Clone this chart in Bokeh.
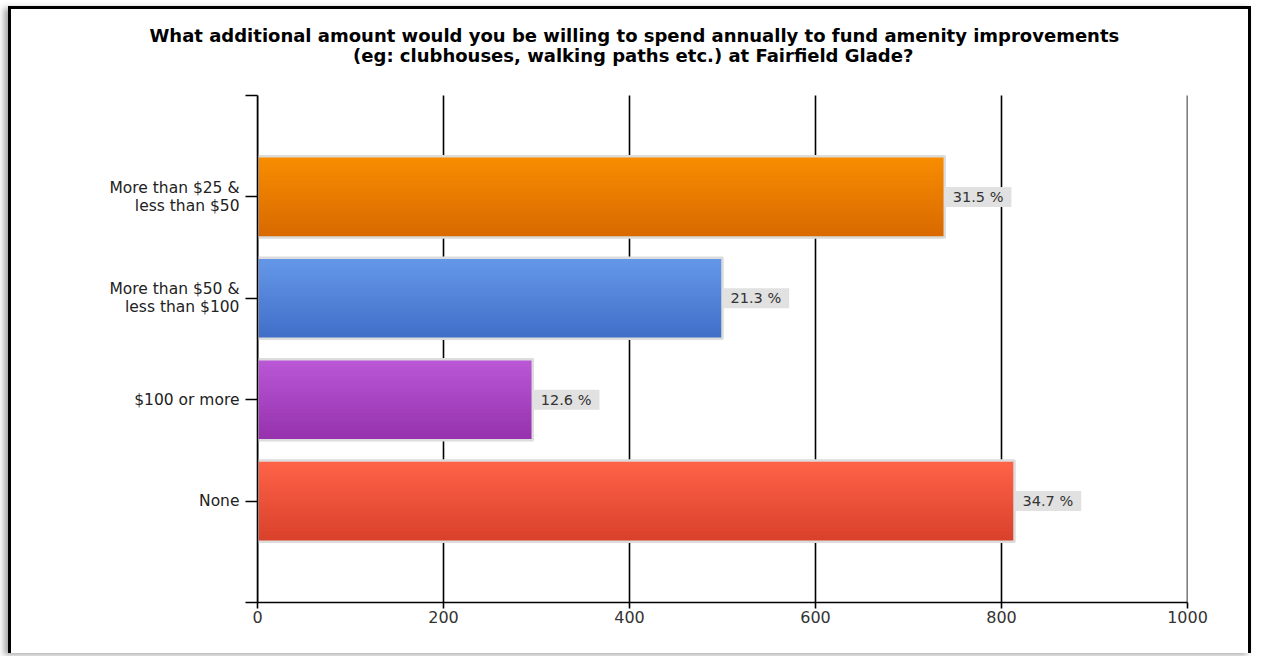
import numpy as np
from bokeh.plotting import figure
from bokeh.models import Range1d, FixedTicker, ColumnDataSource, Title
from bokeh.core.properties import value
from bokeh.embed import file_html
from bokeh.resources import INLINE

# ---------------- data ----------------
categories = ["More than $25 &\nless than $50", "More than $50 &\nless than $100", "$100 or more", "None"]
counts = [739, 500, 296, 814]
percents = ["31.5 %", "21.3 %", "12.6 %", "34.7 %"]
color_top = ["#f98d00", "#6598e9", "#ba58d7", "#ff6449"]
color_bottom = ["#d76900", "#3f6ec7", "#9531ac", "#d9402a"]
x_ticks = [0, 200, 400, 600, 800, 1000]
title_lines = ["What additional amount would you be willing to spend annually to fund amenity improvements",
               "(eg: clubhouses, walking paths etc.) at Fairfield Glade?"]

positions = list(range(1, len(categories) + 1))
N_CAT = len(categories)
BAR_H = 0.8
FONT = "DejaVu Sans"
HEADROOM = 0.493           # extra room above the first category used for the 2nd heading line
TITLE2_X = 404             # 2nd heading line centre (centred on the whole chart)
TITLE2_Y = -0.394
TITLE1_OFFSET = -108       # 1st heading line, px from frame's left edge

p = figure(width=1243, height=647, x_range=Range1d(0, 1000), y_range=Range1d(N_CAT + 1, -HEADROOM),
           output_backend="svg", toolbar_location=None,
           min_border_left=246, min_border_right=67, min_border_top=36, min_border_bottom=54)
p.styles = {"margin-left": "8px", "margin-top": "6px",
            "border-left": "3px solid black", "border-right": "3px solid black",
            "border-top": "3px solid black",
            "box-shadow": "-4px 2px 6px rgba(0,0,0,0.35)"}
p.outline_line_color = None
p.background_fill_color = "white"
p.border_fill_color = "white"
p.xgrid.grid_line_color = None
p.ygrid.grid_line_color = None

# heading: first line as a Title above the frame, second line inside the headroom
t = Title(text=title_lines[0], align="left", offset=TITLE1_OFFSET, text_font=FONT, text_font_size="18px",
          text_font_style="bold", text_color="black", text_line_height=1.0)
if "standoff" in Title.properties():
    t.standoff = 0
p.add_layout(t, "above")
p.text(x=[TITLE2_X], y=[TITLE2_Y], text=[title_lines[1]], text_align="center",
       text_baseline="middle", text_font=value(FONT), text_font_size="18px",
       text_font_style="bold", text_color="black")

# vertical grid lines, limited to the value axis extent
p.segment(x0=x_ticks, y0=[0] * len(x_ticks), x1=x_ticks, y1=[N_CAT + 1] * len(x_ticks),
          line_color="black", line_width=1.6)

# gradient bars built from overlapping bands
def hex2rgb(h):
    return np.array([int(h[i:i + 2], 16) for i in (1, 3, 5)], dtype=float)

N = 24
band_top, band_bot, band_r, band_c = [], [], [], []
step = BAR_H / N
for pos, val, ct, cb in zip(positions, counts, color_top, color_bottom):
    a, b = hex2rgb(ct), hex2rgb(cb)
    for k in range(N):
        f = (k + 0.5) / N
        t0 = pos - BAR_H / 2 + k * step
        t1 = t0 + step * (1.8 if k < N - 1 else 1.0)
        band_top.append(t0)
        band_bot.append(t1)
        band_r.append(val)
        c = a + (b - a) * f
        band_c.append("#%02x%02x%02x" % tuple(int(round(v)) for v in c))
bands = ColumnDataSource(dict(top=band_top, bottom=band_bot, right=band_r, color=band_c))
p.quad(left=0, right="right", top="top", bottom="bottom", fill_color="color", line_color=None, source=bands)

src = ColumnDataSource(dict(y=positions, right=counts, pct=percents))
p.hbar(y="y", right="right", left=0, height=BAR_H, fill_color=None, line_color="#dcdcdc", line_width=2.5, source=src)

p.text(x="right", y="y", text="pct", source=src, x_offset=0, text_baseline="middle",
       text_align="left", text_font=value(FONT), text_font_size="14.5px", text_color="#333333",
       background_fill_color="#e1e1e1", padding=(8, 2))

# axes
p.xaxis.ticker = FixedTicker(ticks=x_ticks)
p.xaxis.axis_line_color = "black"
p.xaxis.axis_line_width = 1.6
p.xaxis.major_tick_line_color = "black"
p.xaxis.major_tick_line_width = 1.6
p.xaxis.major_tick_out = 6
p.xaxis.major_tick_in = 0
p.xaxis.minor_tick_line_color = None
p.xaxis.major_label_standoff = 2
p.xaxis.major_label_text_font = FONT
p.xaxis.major_label_text_font_size = "16px"
p.xaxis.major_label_text_color = "#333333"

y_ticks = [0] + positions + [N_CAT + 1]
p.yaxis.bounds = (0, N_CAT + 1)
p.yaxis.ticker = FixedTicker(ticks=y_ticks)
ovr = {0: "", N_CAT + 1: ""}
for pos, c in zip(positions, categories):
    ovr[pos] = c
p.yaxis.major_label_overrides = ovr
p.yaxis.axis_line_color = "black"
p.yaxis.axis_line_width = 1.6
p.yaxis.major_tick_line_color = "black"
p.yaxis.major_tick_line_width = 1.3
p.yaxis.major_tick_out = 12
p.yaxis.major_tick_in = 0
p.yaxis.minor_tick_line_color = None
p.yaxis.major_label_standoff = 6
p.yaxis.major_label_text_font = FONT
p.yaxis.major_label_text_font_size = "15.5px"
p.yaxis.major_label_text_line_height = 1.0
p.yaxis.major_label_text_color = "#222222"

open("out.html", "w").write(file_html(p, INLINE))
